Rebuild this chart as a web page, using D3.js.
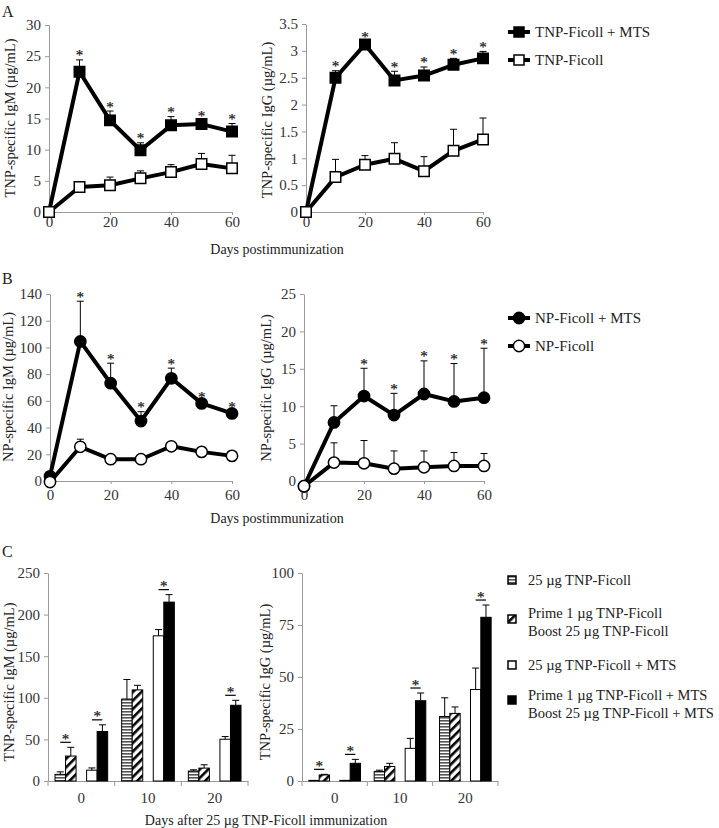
<!DOCTYPE html>
<html><head><meta charset="utf-8">
<script src="https://cdn.jsdelivr.net/npm/d3@7"></script>
<style>
body{margin:0;background:#fff;}
svg text{font-family:"Liberation Serif","DejaVu Serif",serif;fill:#222;}
</style></head><body>
<svg id="chart" width="719" height="828"></svg>
<script>
// ---------- DATA ----------
const days = [0, 10, 20, 30, 40, 50, 60];
const dayTicks = [0, 20, 40, 60];

// Panel A: TNP-specific
const tnpIgM_mts      = [0, 22.5, 14.7, 9.9, 13.9, 14.1, 12.9];
const tnpIgM_mts_err  = [0, 1.9, 1.5, 1.2, 1.4, 0.6, 1.3];
const tnpIgM_plain    = [0, 4.0, 4.3, 5.4, 6.4, 7.7, 7.0];
const tnpIgM_plain_err= [0, 0.6, 1.3, 1.2, 1.2, 1.7, 2.1];
const tnpIgG_mts      = [0, 2.50, 3.12, 2.45, 2.54, 2.74, 2.86];
const tnpIgG_mts_err  = [0, 0.13, 0.05, 0.17, 0.16, 0.12, 0.13];
const tnpIgG_plain    = [0, 0.65, 0.88, 0.99, 0.76, 1.14, 1.35];
const tnpIgG_plain_err= [0, 0.33, 0.17, 0.30, 0.27, 0.40, 0.40];
const aIgMStars = [10, 20, 30, 40, 50, 60];
const aIgGStars = [10, 20, 30, 40, 50, 60];

// Panel B: NP-specific
const npIgM_mts       = [3.5, 104.5, 73.2, 44.9, 76.9, 58.1, 50.6];
const npIgM_mts_err   = [0, 30.1, 15.0, 7.0, 7.6, 1.5, 1.2];
const npIgM_plain     = [-0.8, 25.6, 16.3, 16.3, 26.0, 21.8, 18.8];
const npIgM_plain_err = [0, 5.7, 0.8, 0.8, 2.5, 1.0, 1.0];
const npIgG_mts       = [-0.7, 7.83, 11.36, 8.81, 11.63, 10.64, 11.14];
const npIgG_mts_err   = [0, 2.23, 3.71, 2.91, 4.43, 5.06, 6.61];
const npIgG_plain     = [-0.7, 2.46, 2.37, 1.65, 1.83, 2.01, 2.01];
const npIgG_plain_err = [0, 2.64, 3.04, 2.37, 2.19, 1.79, 1.66];
const bIgMStars = [10, 20, 30, 40, 50, 60];
const bIgGStars = [20, 30, 40, 50, 60];

// Panel C: bars
const cCategories = ["0", "10", "20"];
const cSeriesKeys = ["s0", "s1", "s2", "s3"];
const cLegendLabels = [
  ["25 µg TNP-Ficoll"],
  ["Prime 1 µg TNP-Ficoll", "Boost 25 µg TNP-Ficoll"],
  ["25 µg TNP-Ficoll + MTS"],
  ["Prime 1 µg TNP-Ficoll + MTS", "Boost 25 µg TNP-Ficoll + MTS"]
];
// values per series, per category (0,10,20)
const cIgM     = [[8, 98.5, 12], [30, 109.5, 15.5], [13, 174.5, 50.2], [59.5, 215, 91]];
const cIgM_err = [[3, 23.5, 1.5], [10.5, 5.5, 4], [2.7, 7.5, 3.2], [8, 9, 6]];
const cIgG     = [[0.3, 4.6, 31], [2.9, 7.0, 32.5], [0.3, 15.7, 44], [8.5, 38.6, 78.7]];
const cIgG_err = [[0, 0.6, 9], [0.3, 1.5, 3.1], [0, 4.8, 10.3], [1.9, 3.7, 5.9]];
// significance: [category index, series a, series b]
const cSigPairs = [[0, 0, 1], [0, 2, 3], [1, 2, 3], [2, 2, 3]];

// ---------- DRAW ----------
const svg = d3.select("#chart");
const defs = svg.append("defs");
const hp = defs.append("pattern").attr("id", "hstripe").attr("patternUnits", "userSpaceOnUse")
  .attr("width", 6).attr("height", 3);
hp.append("rect").attr("width", 6).attr("height", 3).attr("fill", "#fff");
hp.append("rect").attr("width", 6).attr("height", 1.6).attr("fill", "#555");
const dp = defs.append("pattern").attr("id", "diag").attr("patternUnits", "userSpaceOnUse")
  .attr("width", 6).attr("height", 6).attr("patternTransform", "rotate(45)");
dp.append("rect").attr("width", 6).attr("height", 6).attr("fill", "#fff");
dp.append("rect").attr("width", 2.6).attr("height", 6).attr("fill", "#000");
const cFills = ["url(#hstripe)", "url(#diag)", "#fff", "#000"];

const AXC = "#9a9a9a";
const TICKFS = 15;
function styleAxis(g, fs) {
  g.selectAll(".domain").attr("stroke", AXC);
  g.selectAll(".tick line").attr("stroke", AXC);
  g.selectAll(".tick text").style("font-size", fs + "px").style("fill", "#333")
    .style("font-family", '"Liberation Serif","DejaVu Serif",serif');
}
function yTitle(text, x, y) {
  svg.append("text").attr("transform", `translate(${x},${y}) rotate(-90)`)
    .attr("text-anchor", "middle").attr("dy", "0.35em").style("font-size", "14.5px").text(text);
}
function label(text, x, y, size, anchor) {
  svg.append("text").attr("x", x).attr("y", y).attr("text-anchor", anchor || "start")
    .style("font-size", size + "px").text(text);
}
function star(x, y) {
  svg.append("text").attr("x", x).attr("y", y).attr("text-anchor", "middle")
    .style("font-size", "15px").style("fill", "#222").style("stroke", "#222")
    .style("stroke-width", "0.25px").text("*");
}

function linePanel(o) {
  const x = d3.scaleLinear().domain([0, 60]).range(o.xr);
  const y = d3.scaleLinear().domain([0, o.ymax]).range(o.yr);
  const ga = svg.append("g").attr("transform", `translate(${o.xr[0]},0)`)
    .call(d3.axisLeft(y).tickValues(d3.range(0, o.ymax + o.step / 2, o.step))
      .tickFormat(d3.format("~g")).tickSize(4).tickPadding(4).tickSizeOuter(0));
  styleAxis(ga, TICKFS);
  const gx = svg.append("g").attr("transform", `translate(0,${y(0)})`)
    .call(d3.axisBottom(x).tickValues(dayTicks).tickSize(3).tickPadding(o.xpad).tickSizeOuter(0));
  styleAxis(gx, TICKFS);
  const line = d3.line().x((d, i) => x(days[i])).y(d => y(d));
  const sym = d3.symbol().type(o.marker === "square" ? d3.symbolSquare : d3.symbolCircle)
    .size(o.marker === "square" ? 110 : 100);
  o.series.forEach(s => {
    const g = svg.append("g");
    s.vals.forEach((v, i) => {
      if (s.errs[i] <= 0) return;
      const cx = x(days[i]), yt = y(v + s.errs[i]);
      g.append("line").attr("x1", cx).attr("x2", cx).attr("y1", y(v)).attr("y2", yt)
        .attr("stroke", "#000").attr("stroke-width", 1);
      g.append("line").attr("x1", cx - 3.5).attr("x2", cx + 3.5).attr("y1", yt).attr("y2", yt)
        .attr("stroke", "#000").attr("stroke-width", 1);
    });
  });
  o.series.forEach(s => {
    svg.append("path").datum(s.vals).attr("d", line).attr("fill", "none")
      .attr("stroke", "#000").attr("stroke-width", 4).attr("stroke-linejoin", "round");
  });
  o.series.forEach(s => {
    svg.append("g").selectAll("path").data(s.vals).join("path")
      .attr("transform", (d, i) => `translate(${x(days[i])},${y(d)})`)
      .attr("d", sym).attr("fill", s.filled ? "#000" : "#fff")
      .attr("stroke", "#000").attr("stroke-width", 1.5);
  });
  const top = o.series[0];
  o.stars.forEach(dv => {
    const i = days.indexOf(dv);
    star(x(dv), y(top.vals[i] + top.errs[i]) + 0.5);
  });
}

function barPanel(o) {
  const x0 = d3.scaleBand().domain(cCategories).range(o.xr).padding(0);
  const bw = x0.bandwidth();
  const x1 = d3.scaleBand().domain(["s0", "s1", "gap", "s2", "s3"]).range([bw * 0.105, bw * 0.895]);
  const y = d3.scaleLinear().domain([0, o.ymax]).range(o.yr);
  const ga = svg.append("g").attr("transform", `translate(${o.xr[0]},0)`)
    .call(d3.axisLeft(y).tickValues(d3.range(0, o.ymax + o.step / 2, o.step))
      .tickSize(4).tickPadding(4).tickSizeOuter(0));
  styleAxis(ga, TICKFS);
  const gx = svg.append("g").attr("transform", `translate(0,${y(0)})`)
    .call(d3.axisBottom(x0).tickSize(0).tickPadding(11).tickSizeOuter(0));
  styleAxis(gx, TICKFS);
  const bounds = cCategories.map(c => x0(c)).concat([o.xr[1]]);
  gx.selectAll(".bnd").data(bounds).join("line").attr("class", "bnd")
    .attr("x1", d => d).attr("x2", d => d).attr("y1", 0).attr("y2", 5).attr("stroke", AXC);
  const bx = (si, ci) => x0(cCategories[ci]) + x1(cSeriesKeys[si]);
  o.vals.forEach((sv, si) => {
    sv.forEach((v, ci) => {
      svg.append("rect").attr("x", bx(si, ci)).attr("y", y(v))
        .attr("width", x1.bandwidth()).attr("height", y(0) - y(v))
        .attr("fill", cFills[si]).attr("stroke", "#000").attr("stroke-width", 1);
      const e = o.errs[si][ci];
      if (e > 0) {
        const cx = bx(si, ci) + x1.bandwidth() / 2, yt = y(v + e);
        svg.append("line").attr("x1", cx).attr("x2", cx).attr("y1", y(v)).attr("y2", yt)
          .attr("stroke", "#000").attr("stroke-width", 1);
        svg.append("line").attr("x1", cx - 3.5).attr("x2", cx + 3.5).attr("y1", yt).attr("y2", yt)
          .attr("stroke", "#000").attr("stroke-width", 1);
      }
    });
  });
  cSigPairs.forEach(([ci, a, b]) => {
    const topA = o.vals[a][ci] + o.errs[a][ci], topB = o.vals[b][ci] + o.errs[b][ci];
    const ly = y(Math.max(topA, topB)) - 5;
    const xa = bx(a, ci) + x1.bandwidth() / 2, xb = bx(b, ci) + x1.bandwidth() / 2;
    svg.append("line").attr("x1", xa).attr("x2", xb).attr("y1", ly).attr("y2", ly)
      .attr("stroke", "#000").attr("stroke-width", 1.2);
    star((xa + xb) / 2, ly + 1.5);
  });
}

// Panel letters
label("A", 2, 17, 16);
label("B", 2, 284, 16);
label("C", 2, 557, 16);

// Panel A
linePanel({ xr: [49, 232], yr: [212, 25], ymax: 30, step: 5, xpad: 1, marker: "square",
  series: [{ vals: tnpIgM_mts, errs: tnpIgM_mts_err, filled: true },
           { vals: tnpIgM_plain, errs: tnpIgM_plain_err, filled: false }], stars: aIgMStars });
linePanel({ xr: [306, 483], yr: [212, 24], ymax: 3.5, step: 0.5, xpad: 1, marker: "square",
  series: [{ vals: tnpIgG_mts, errs: tnpIgG_mts_err, filled: true },
           { vals: tnpIgG_plain, errs: tnpIgG_plain_err, filled: false }], stars: aIgGStars });
yTitle("TNP-specific IgM (µg/mL)", 10, 118);
yTitle("TNP-specific IgG (µg/mL)", 267, 120);
label("Days postimmunization", 277, 254, 14, "middle");

// Panel B
linePanel({ xr: [50, 232], yr: [481, 294], ymax: 140, step: 20, xpad: 5, marker: "circle",
  series: [{ vals: npIgM_mts, errs: npIgM_mts_err, filled: true },
           { vals: npIgM_plain, errs: npIgM_plain_err, filled: false }], stars: bIgMStars });
linePanel({ xr: [304, 484], yr: [481, 294], ymax: 25, step: 5, xpad: 5, marker: "circle",
  series: [{ vals: npIgG_mts, errs: npIgG_mts_err, filled: true },
           { vals: npIgG_plain, errs: npIgG_plain_err, filled: false }], stars: bIgGStars });
yTitle("NP-specific IgM (µg/mL)", 8, 387);
yTitle("NP-specific IgG (µg/mL)", 266, 388);
label("Days postimmunization", 277, 523, 14, "middle");

// Legends A & B
const legA = [{ t: "TNP-Ficoll + MTS", f: true, y: 32 }, { t: "TNP-Ficoll", f: false, y: 60 }];
const legB = [{ t: "NP-Ficoll + MTS", f: true, y: 318 }, { t: "NP-Ficoll", f: false, y: 346 }];
[[legA, d3.symbolSquare, 100], [legB, d3.symbolCircle, 100]].forEach(([items, type, size]) => {
  items.forEach(it => {
    svg.append("line").attr("x1", 508).attr("x2", 530).attr("y1", it.y).attr("y2", it.y)
      .attr("stroke", "#000").attr("stroke-width", 4);
    svg.append("path").attr("transform", `translate(519,${it.y})`)
      .attr("d", d3.symbol().type(type).size(size)).attr("fill", it.f ? "#000" : "#fff")
      .attr("stroke", "#000").attr("stroke-width", 1.5);
    svg.append("text").attr("x", 535).attr("y", it.y).attr("dy", "0.35em")
      .style("font-size", "15px").text(it.t);
  });
});

// Panel C
barPanel({ xr: [48, 248], yr: [781, 573], ymax: 250, step: 50, vals: cIgM, errs: cIgM_err });
barPanel({ xr: [302, 498], yr: [781, 573], ymax: 100, step: 25, vals: cIgG, errs: cIgG_err });
yTitle("TNP-specific IgM (µg/mL)", 9, 682);
yTitle("TNP-specific IgG (µg/mL)", 265, 682);
label("Days after 25 µg TNP-Ficoll immunization", 266, 825, 14, "middle");

// Legend C
const legCY = [580, 619, 665, 700];
const legCLines = [[580], [613, 631], [665], [695, 713]];
cLegendLabels.forEach((lines, i) => {
  svg.append("rect").attr("x", 508).attr("y", legCY[i] - 4).attr("width", 8).attr("height", 8)
    .attr("fill", cFills[i]).attr("stroke", "#000").attr("stroke-width", 1.5);
  lines.forEach((t, j) => {
    svg.append("text").attr("x", 528).attr("y", legCLines[i][j]).attr("dy", "0.35em")
      .style("font-size", "14.5px").text(t);
  });
});
</script>
</body></html>
